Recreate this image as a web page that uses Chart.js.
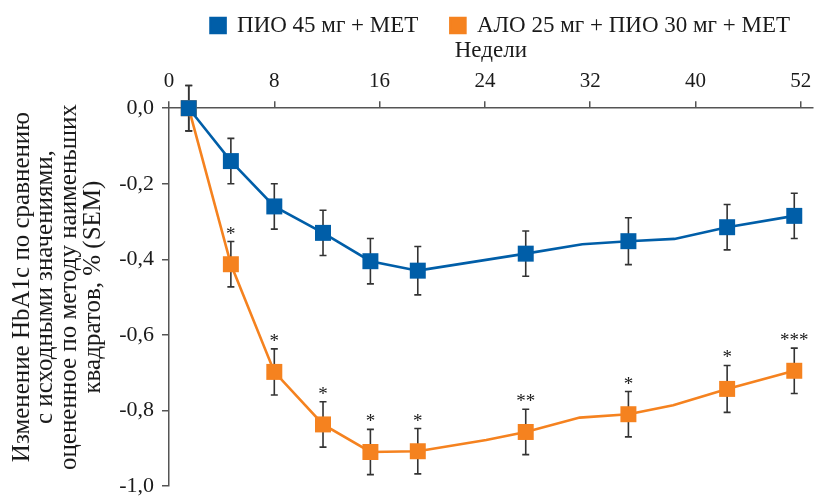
<!DOCTYPE html>
<html>
<head>
<meta charset="utf-8">
<script src="https://cdn.jsdelivr.net/npm/chart.js@4"></script>
<style>
  html, body { margin: 0; padding: 0; background: #fff; }
  #wrap { width: 824px; height: 499px; }
</style>
</head>
<body>
<div id="wrap"><canvas id="chart-hba1c"></canvas></div>
<script>
'use strict';

// x positions as drawn on the axis (last tick "52" sits at the 48 slot)
const axisTicks = [0, 8, 16, 24, 32, 40, 48];
const axisTickLabels = ['0', '8', '16', '24', '32', '40', '52'];

const blueWeeks = [1.5, 4.7, 8.0, 11.7, 15.3, 18.9, 27.1, 31.4, 34.9, 38.4, 42.4, 47.5];
const blueChange = [0, -0.14, -0.26, -0.33, -0.405, -0.43, -0.385, -0.36, -0.352, -0.346, -0.315, -0.285];
const blueSem = [0.06, 0.06, 0.06, 0.06, 0.06, 0.064, 0.06, null, 0.062, null, 0.06, 0.06];

const orangeWeeks = [1.5, 4.7, 8.0, 11.7, 15.3, 18.9, 24.1, 27.1, 31.2, 34.9, 38.3, 42.4, 47.5];
const orangeChange = [0, -0.413, -0.698, -0.837, -0.91, -0.908, -0.878, -0.857, -0.819, -0.81, -0.786, -0.743, -0.695];
const orangeSem = [0.06, 0.06, 0.061, 0.06, 0.06, 0.06, null, 0.06, null, 0.06, null, 0.062, 0.06];
const orangeStars = ['', '*', '*', '*', '*', '*', '', '**', '', '*', '', '*', '***'];

const yTitleLines = ['Изменение HbA1c по сравнению', 'с исходными значениями,',
                     'оцененное по методу наименьших', 'квадратов, % (SEM)'];

const BLUE = '#005ea8';
const ORANGE = '#f5821f';
const INK = '#1a1a1a';
const AXIS = '#555';
const SERIF = "'Liberation Serif', 'DejaVu Serif', serif";

function points(xs, ys) {
    return xs.map((x, i) => ({x: x, y: ys[i]}));
}

function radii(sem) {
    return sem.map(s => s == null ? 0 : 11.3);
}

// error bars go under the markers, stars on top
const errorBars = {
    id: 'errorBars',
    beforeDatasetsDraw(chart) {
        const ctx = chart.ctx;
        const xs = chart.scales.x, ys = chart.scales.y;
        ctx.save();
        ctx.strokeStyle = '#333';
        ctx.lineWidth = 1.6;
        chart.data.datasets.forEach(ds => {
            ds.sem.forEach((s, i) => {
                if (s == null) return;
                const px = xs.getPixelForValue(ds.data[i].x);
                const top = ys.getPixelForValue(ds.data[i].y + s);
                const bot = ys.getPixelForValue(ds.data[i].y - s);
                ctx.beginPath();
                ctx.moveTo(px, top); ctx.lineTo(px, bot);
                ctx.moveTo(px - 3.5, top); ctx.lineTo(px + 3.5, top);
                ctx.moveTo(px - 3.5, bot); ctx.lineTo(px + 3.5, bot);
                ctx.stroke();
            });
        });
        ctx.restore();
    },
    afterDatasetsDraw(chart) {
        const ctx = chart.ctx;
        const xs = chart.scales.x, ys = chart.scales.y;
        const ds = chart.data.datasets[1];
        ctx.save();
        ctx.fillStyle = INK;
        ctx.font = '19px ' + SERIF;
        ctx.textAlign = 'center';
        ctx.textBaseline = 'alphabetic';
        ds.stars.forEach((st, i) => {
            if (!st) return;
            const px = xs.getPixelForValue(ds.data[i].x);
            const top = ys.getPixelForValue(ds.data[i].y + ds.sem[i]);
            ctx.fillText(st, px, top - 2);
        });
        ctx.restore();
    }
};

// rotated y title, centred a bit above the plot centre like the original
const yTitle = {
    id: 'yTitle',
    afterDraw(chart) {
        const ctx = chart.ctx;
        const area = chart.chartArea;
        const cy = (area.top + area.bottom) / 2 - 10;
        ctx.save();
        ctx.fillStyle = INK;
        ctx.font = '25px ' + SERIF;
        ctx.textAlign = 'center';
        ctx.textBaseline = 'middle';
        yTitleLines.forEach((line, i) => {
            ctx.save();
            ctx.translate(22 + i * 23.7, cy);
            ctx.rotate(-Math.PI / 2);
            ctx.fillText(line, 0, 0);
            ctx.restore();
        });
        ctx.restore();
    }
};

(function initChart() {
    const canvas = document.getElementById('chart-hba1c');
    new Chart(canvas.getContext('2d'), {
        type: 'line',
        data: {
            datasets: [{
                label: 'ПИО 45 мг + МЕТ',
                data: points(blueWeeks, blueChange),
                sem: blueSem,
                borderColor: BLUE,
                backgroundColor: BLUE,
                borderWidth: 2.6,
                pointStyle: 'rect',
                pointRadius: radii(blueSem),
                pointBorderWidth: 0,
                pointBackgroundColor: BLUE,
                clip: false
            }, {
                label: 'АЛО 25 мг + ПИО 30 мг + МЕТ',
                data: points(orangeWeeks, orangeChange),
                sem: orangeSem,
                stars: orangeStars,
                borderColor: ORANGE,
                backgroundColor: ORANGE,
                borderWidth: 2.6,
                pointStyle: 'rect',
                pointRadius: radii(orangeSem),
                pointBorderWidth: 0,
                pointBackgroundColor: ORANGE,
                clip: false
            }]
        },
        options: {
            responsive: true,
            maintainAspectRatio: false,
            animation: false,
            layout: {padding: {left: 4, right: 2, top: -18, bottom: 13}},
            plugins: {
                tooltip: {enabled: false},
                legend: {
                    position: 'top',
                    align: 'end',
                    labels: {
                        boxWidth: 15,
                        boxHeight: 15,
                        padding: 32,
                        color: INK,
                        font: {family: SERIF, size: 23}
                    }
                }
            },
            scales: {
                x: {
                    type: 'linear',
                    position: 'top',
                    min: 0,
                    max: 48.9,
                    afterBuildTicks: axis => {
                        axis.ticks = axisTicks.map(v => ({value: v}));
                    },
                    afterFit: axis => {
                        axis.paddingLeft = 0;
                        axis.paddingRight = 0;
                    },
                    ticks: {
                        color: INK,
                        padding: 7,
                        font: {family: SERIF, size: 21},
                        callback: v => axisTickLabels[axisTicks.indexOf(v)]
                    },
                    grid: {drawOnChartArea: false, drawTicks: true, tickLength: 7, color: AXIS, lineWidth: 1.5},
                    border: {color: AXIS, width: 1.5},
                    title: {
                        display: true,
                        text: 'Недели',
                        color: INK,
                        padding: {top: -8, bottom: 0},
                        font: {family: SERIF, size: 23, lineHeight: 1.0}
                    }
                },
                y: {
                    min: -1,
                    max: 0,
                    afterFit: axis => {
                        axis.width = 165;
                        axis.paddingTop = 0;
                        axis.paddingBottom = 0;
                    },
                    ticks: {
                        stepSize: 0.2,
                        color: INK,
                        padding: 8,
                        font: {family: SERIF, size: 22},
                        callback: v => Math.abs(v) < 1e-9 ? '0,0' : v.toFixed(1).replace('.', ',')
                    },
                    grid: {drawOnChartArea: false, drawTicks: true, tickLength: 7, color: AXIS, lineWidth: 1.5},
                    border: {color: AXIS, width: 1.5}
                }
            }
        },
        plugins: [errorBars, yTitle]
    });
})();
</script>
</body>
</html>
